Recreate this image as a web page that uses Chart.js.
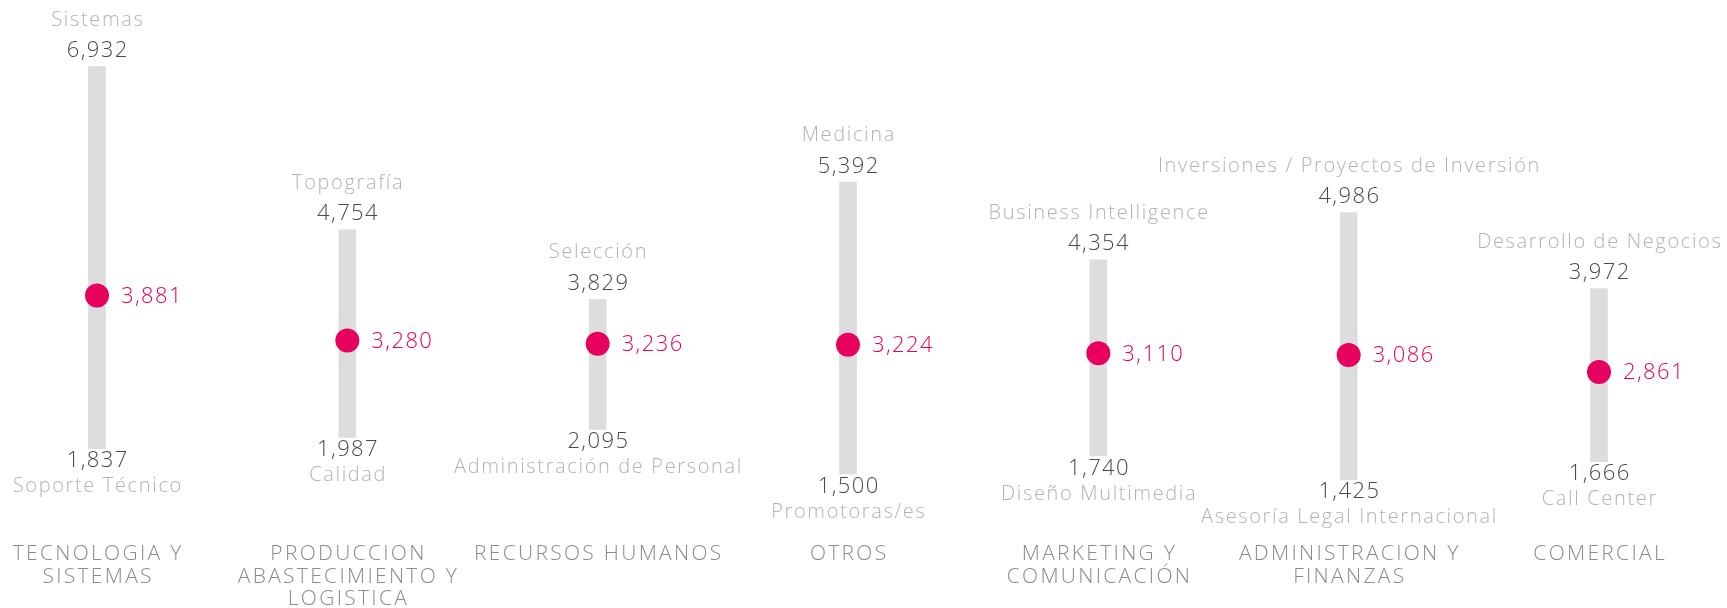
<!DOCTYPE html>
<html>
<head>
<meta charset="utf-8">
<script src="https://cdn.jsdelivr.net/npm/chart.js@4/dist/chart.umd.min.js"></script>
<style>
  html, body { margin: 0; padding: 0; background: #ffffff; }
  #wrap { position: relative; width: 1727px; height: 608px; }
</style>
</head>
<body>
<div id="wrap"><canvas id="c"></canvas></div>
<script>
// ---- data ----
const categories = [
  ['TECNOLOGIA Y', 'SISTEMAS'],
  ['PRODUCCION', 'ABASTECIMIENTO Y', 'LOGISTICA'],
  ['RECURSOS HUMANOS'],
  ['OTROS'],
  ['MARKETING Y', 'COMUNICACIÓN'],
  ['ADMINISTRACION Y', 'FINANZAS'],
  ['COMERCIAL']
];
const minValues = [1837, 1987, 2095, 1500, 1740, 1425, 1666];
const maxValues = [6932, 4754, 3829, 5392, 4354, 4986, 3972];
const avgValues = [3881, 3280, 3236, 3224, 3110, 3086, 2861];
const minLabels = ['Soporte Técnico', 'Calidad', 'Administración de Personal', 'Promotoras/es',
                   'Diseño Multimedia', 'Asesoría Legal Internacional', 'Call Center'];
const maxLabels = ['Sistemas', 'Topografía', 'Selección', 'Medicina',
                   'Business Intelligence', 'Inversiones / Proyectos de Inversión', 'Desarrollo de Negocios'];

// ---- styles ----
const FONT = "'Open Sans', Lato, 'Noto Sans', sans-serif";
const PINK = '#E8005F';
const BAR_GRAY = '#DDDDDD';
const VALUE_COLOR = '#4a4a4a';
const NAME_COLOR = '#b3b3b3';
const CAT_COLOR = '#8c8c8c';

const fmt = v => v.toLocaleString('en-US');

// draw text with extra tracking, keeping kerning via prefix measurement
function spacedText(ctx, text, x, y, spacing, align) {
  if ('letterSpacing' in ctx) ctx.letterSpacing = '0px';
  const chars = Array.from(text);
  const total = ctx.measureText(text).width + spacing * (chars.length - 1);
  let start = x;
  if (align === 'center') start = x - total / 2;
  else if (align === 'right') start = x - total;
  const prevAlign = ctx.textAlign;
  ctx.textAlign = 'left';
  let prefix = '';
  chars.forEach((ch, i) => {
    const off = ctx.measureText(prefix).width + spacing * i;
    ctx.fillText(ch, start + off, y);
    prefix += ch;
  });
  ctx.textAlign = prevAlign;
}

const labelPlugin = {
  id: 'rangeLabels',
  afterDatasetsDraw(chart) {
    const ctx = chart.ctx;
    const barMeta = chart.getDatasetMeta(0);
    const dotMeta = chart.getDatasetMeta(1);
    const xScale = chart.scales.x;
    const area = chart.chartArea;
    ctx.save();
    ctx.textBaseline = 'alphabetic';
    barMeta.data.forEach((el, i) => {
      const top = Math.min(el.y, el.base);
      const bottom = Math.max(el.y, el.base);
      const x = el.x;
      ctx.font = `300 22px ${FONT}`;
      ctx.fillStyle = VALUE_COLOR;
      spacedText(ctx, fmt(maxValues[i]), x, top - 9.5, 1.4, 'center');
      spacedText(ctx, fmt(minValues[i]), x, bottom + 18.5, 1.4, 'center');
      ctx.font = `300 20px ${FONT}`;
      ctx.fillStyle = NAME_COLOR;
      spacedText(ctx, maxLabels[i], x, top - 41, 1.65, 'center');
      spacedText(ctx, minLabels[i], x, bottom + 43.5, 1.65, 'center');
    });
    // average labels
    ctx.textBaseline = 'middle';
    ctx.font = `300 22px ${FONT}`;
    ctx.fillStyle = PINK;
    dotMeta.data.forEach((pt, i) => {
      spacedText(ctx, fmt(avgValues[i]), pt.x + 24, pt.y + 1, 1.4, 'left');
    });
    // category labels (x axis)
    ctx.textBaseline = 'alphabetic';
    ctx.font = `300 21px ${FONT}`;
    ctx.fillStyle = CAT_COLOR;
    categories.forEach((lines, i) => {
      const x = xScale.getPixelForTick(i);
      lines.forEach((line, j) => {
        spacedText(ctx, line, x, area.bottom + 26.3 + j * 22.4, 2.3, 'center');
      });
    });
    ctx.restore();
  }
};

new Chart(document.getElementById('c'), {
  type: 'bar',
  data: {
    labels: categories,
    datasets: [
      {
        type: 'bar',
        data: minValues.map((v, i) => [v, maxValues[i]]),
        backgroundColor: BAR_GRAY,
        borderWidth: 0,
        barThickness: 17,
        grouped: false,
        clip: false,
        order: 2
      },
      {
        type: 'line',
        data: avgValues,
        showLine: false,
        pointRadius: 12,
        pointHoverRadius: 12,
        pointBackgroundColor: PINK,
        pointBorderWidth: 0,
        pointBorderColor: PINK,
        clip: false,
        order: 1
      }
    ]
  },
  options: {
    responsive: true,
    maintainAspectRatio: false,
    animation: false,
    events: [],
    layout: { padding: { top: 61.5, bottom: 0, left: 97, right: 128 } },
    plugins: { legend: { display: false }, tooltip: { enabled: false } },
    scales: {
      x: {
        type: 'category',
        offset: false,
        border: { display: false },
        grid: { display: false, drawTicks: false, offset: false },
        ticks: { display: false, autoSkip: false },
        afterFit(scale) { scale.height = 74; }
      },
      y: {
        display: false,
        min: 700,
        max: 7000
      }
    }
  },
  plugins: [labelPlugin]
});
</script>
</body>
</html>
